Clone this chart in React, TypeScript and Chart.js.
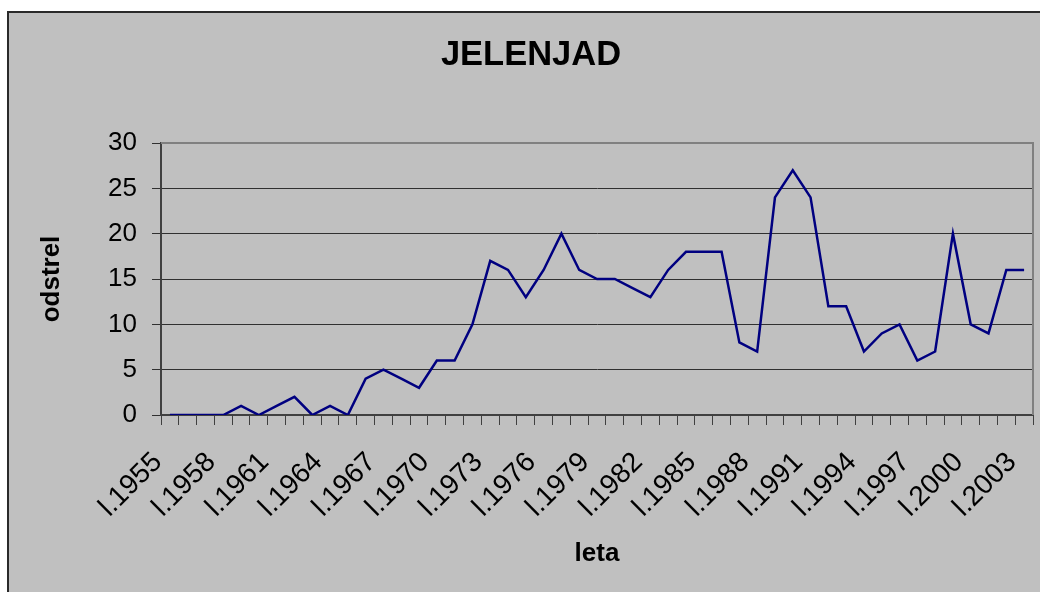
import React, { useEffect, useRef } from "react";
import { Chart, registerables } from "chart.js";

Chart.register(...registerables);

const years = [
  "1955", "1956", "1957", "1958", "1959", "1960", "1961", "1962", "1963", "1964",
  "1965", "1966", "1967", "1968", "1969", "1970", "1971", "1972", "1973", "1974",
  "1975", "1976", "1977", "1978", "1979", "1980", "1981", "1982", "1983", "1984",
  "1985", "1986", "1987", "1988", "1989", "1990", "1991", "1992", "1993", "1994",
  "1995", "1996", "1997", "1998", "1999", "2000", "2001", "2002", "2003",
];
const categories = years.map((y) => "l." + y);
const odstrel = [
  0, 0, 0, 0, 1, 0, 1, 2, 0, 1, 0,
  4, 5, 4, 3, 6, 6, 10, 17, 16, 13,
  16, 20, 16, 15, 15, 14, 13, 16, 18, 18,
  18, 8, 7, 24, 27, 24, 12, 12, 7, 9,
  10, 6, 7, 20, 10, 9, 16, 16,
];
const yTicks = [0, 5, 10, 15, 20, 25, 30];

const FONT = "'Liberation Sans', Arial, Helvetica, sans-serif";

const plotBorder = {
  id: "plotBorder",
  beforeDatasetsDraw(chart: any) {
    const { ctx, chartArea } = chart;
    ctx.save();
    ctx.strokeStyle = "#808080";
    ctx.lineWidth = 2;
    ctx.beginPath();
    ctx.moveTo(chartArea.left, chartArea.top);
    ctx.lineTo(chartArea.right, chartArea.top);
    ctx.lineTo(chartArea.right, chartArea.bottom);
    ctx.stroke();
    ctx.restore();
  },
};

export default function App() {
  const ref = useRef<HTMLCanvasElement | null>(null);
  useEffect(() => {
    if (!ref.current) return;
    const chart = new Chart(ref.current, {
      type: "line",
      data: {
        labels: categories,
        datasets: [
          {
            label: "odstrel",
            data: odstrel,
            borderColor: "#000080",
            borderWidth: 2.5,
            pointRadius: 0,
            tension: 0,
            fill: false,
          },
        ],
      },
      plugins: [plotBorder],
      options: {
        responsive: false,
        animation: false,
        devicePixelRatio: 1,
        layout: { padding: { left: 29, right: 27, top: 0, bottom: 0 } },
        plugins: {
          legend: { display: false },
          tooltip: { enabled: false },
          title: {
            display: true,
            text: "JELENJAD",
            color: "#000",
            font: { family: FONT, size: 34.5, weight: "bold" },
            padding: { top: 35, bottom: 66.6 },
          },
        },
        scales: {
          x: {
            type: "category",
            offset: true,
            grid: {
              offset: true,
              drawOnChartArea: false,
              drawTicks: true,
              tickLength: 10,
              color: "#404040",
              lineWidth: 1,
            },
            border: { display: true, color: "#404040", width: 2 },
            ticks: {
              autoSkip: false,
              maxRotation: 45,
              minRotation: 45,
              color: "#000",
              padding: 21,
              labelOffset: -12,
              font: { family: FONT, size: 28 },
              callback: (_v: any, i: number) => (i % 3 === 0 ? categories[i] : ""),
            },
            title: {
              display: true,
              text: "leta",
              color: "#000",
              font: { family: FONT, size: 26, weight: "bold" },
              padding: { top: 0, bottom: 23 },
            },
            afterFit: (scale: any) => {
              scale.height = 177;
              scale.paddingRight = 0;
            },
          },
          y: {
            min: 0,
            max: 30,
            afterBuildTicks: (scale: any) => {
              scale.ticks = yTicks.map((v) => ({ value: v }));
            },
            grid: {
              color: "#303030",
              lineWidth: 1,
              drawTicks: true,
              tickLength: 9,
            },
            border: { display: true, color: "#404040", width: 2 },
            ticks: {
              color: "#000",
              padding: 15,
              font: { family: FONT, size: 26 },
            },
            title: {
              display: true,
              text: "odstrel",
              color: "#000",
              font: { family: FONT, size: 26, weight: "bold" },
              padding: { top: 7, bottom: 0 },
            },
            afterFit: (scale: any) => {
              scale.width = 132;
            },
          },
        },
      },
    });
    return () => chart.destroy();
  }, []);

  return (
    <div style={{ position: "fixed", inset: 0, background: "#ffffff", overflow: "hidden" }}>
      <div
        style={{
          position: "absolute",
          left: 7,
          top: 11,
          width: 1100,
          height: 700,
          background: "#c0c0c0",
          borderLeft: "2px solid #2a2a2a",
          borderTop: "2px solid #2a2a2a",
        }}
      />
      <canvas
        ref={ref}
        width={1060}
        height={592}
        style={{ position: "absolute", left: 0, top: 0, width: 1060, height: 592 }}
      />
    </div>
  );
}
